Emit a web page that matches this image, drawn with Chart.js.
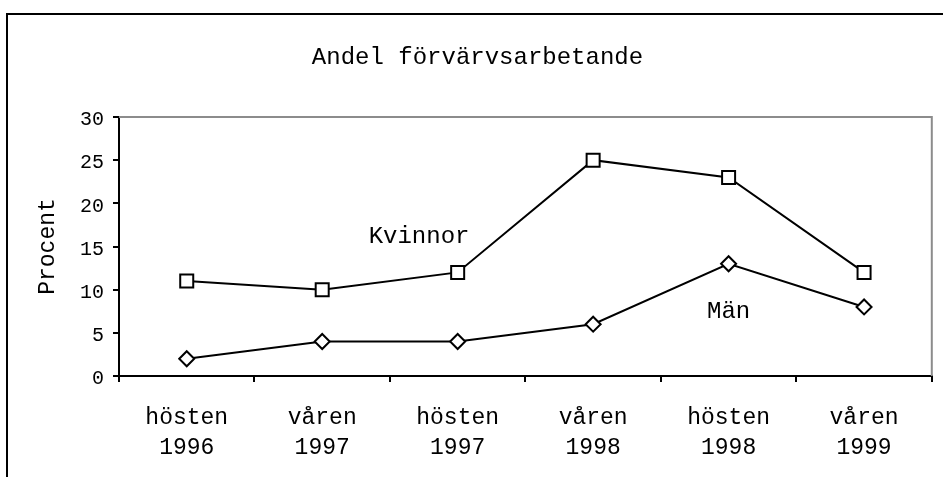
<!DOCTYPE html>
<html>
<head>
<meta charset="utf-8">
<script src="https://cdn.jsdelivr.net/npm/chart.js@4/dist/chart.umd.min.js"></script>
<style>
  html, body { margin: 0; padding: 0; background: #fff; }
  canvas { display: block; }
</style>
</head>
<body>
<canvas id="c" width="943" height="477"></canvas>
<script>
// ---- data ----
const categories = [
  ["hösten", "1996"],
  ["våren", "1997"],
  ["hösten", "1997"],
  ["våren", "1998"],
  ["hösten", "1998"],
  ["våren", "1999"]
];
const kvinnor = [11, 10, 12, 25, 23, 12];
const man = [2, 4, 4, 6, 13, 8];
const seriesNames = ["Kvinnor", "Män"];
const chartTitle = "Andel förvärvsarbetande";
const yAxisTitle = "Procent";
const yMin = 0, yMax = 30, yStep = 5;
// series label anchors in data units (category index, value)
const labelAnchorX = [1.715, 4.0];
const labelAnchorY = [16.1, 7.4];

const MONO = "'Liberation Mono', 'Courier New', monospace";

const framePlugin = {
  id: 'frame',
  beforeDraw(chart) {
    const ctx = chart.ctx;
    ctx.save();
    ctx.fillStyle = '#fff';
    ctx.fillRect(0, 0, chart.width, chart.height);
    ctx.strokeStyle = '#000';
    ctx.lineWidth = 2;
    ctx.strokeRect(7, 14, 1200, 1200);
    // chart title
    ctx.font = "24px " + MONO;
    ctx.fillStyle = '#000';
    ctx.textAlign = 'center';
    ctx.textBaseline = 'alphabetic';
    ctx.fillText(chartTitle, 477.5, 63.5);
    ctx.restore();
  },
  beforeDatasetsDraw(chart) {
    const a = chart.chartArea, ctx = chart.ctx;
    ctx.save();
    ctx.strokeStyle = '#8c8c8c';
    ctx.lineWidth = 2;
    ctx.beginPath();
    ctx.moveTo(a.left, a.top);
    ctx.lineTo(a.right, a.top);
    ctx.lineTo(a.right, a.bottom);
    ctx.stroke();
    ctx.restore();
  },
  afterDatasetsDraw(chart) {
    const ctx = chart.ctx, xs = chart.scales.x, ys = chart.scales.y;
    ctx.save();
    ctx.font = "24px " + MONO;
    ctx.fillStyle = '#000';
    ctx.textAlign = 'center';
    ctx.textBaseline = 'middle';
    seriesNames.forEach((n, i) => {
      ctx.fillText(n, xs.getPixelForValue(labelAnchorX[i]), ys.getPixelForValue(labelAnchorY[i]));
    });
    ctx.restore();
  }
};

new Chart(document.getElementById('c'), {
  type: 'line',
  data: {
    labels: categories,
    datasets: [
      {
        label: seriesNames[0],
        data: kvinnor,
        borderColor: '#000',
        borderWidth: 2,
        pointStyle: 'rect',
        pointRadius: 9.2,
        pointBackgroundColor: '#fff',
        pointBorderColor: '#000',
        pointBorderWidth: 2,
        tension: 0
      },
      {
        label: seriesNames[1],
        data: man,
        borderColor: '#000',
        borderWidth: 2,
        pointStyle: 'rectRot',
        pointRadius: 7.5,
        pointBackgroundColor: '#fff',
        pointBorderColor: '#000',
        pointBorderWidth: 2,
        tension: 0
      }
    ]
  },
  options: {
    responsive: false,
    animation: false,
    devicePixelRatio: 1,
    layout: { padding: { left: 0, right: 6, top: 117, bottom: 0 } },
    plugins: {
      legend: { display: false },
      tooltip: { enabled: false },
      title: { display: false }
    },
    scales: {
      x: {
        type: 'category',
        offset: true,
        afterFit(s) { s.height = 101; },
        grid: {
          offset: true,
          drawOnChartArea: false,
          drawTicks: true,
          tickLength: 6,
          color: '#000',
          lineWidth: 2
        },
        border: { display: true, color: '#000', width: 2 },
        ticks: {
          color: '#000',
          font: { family: MONO, size: 23, lineHeight: '30px' },
          padding: 21,
          maxRotation: 0,
          autoSkip: false
        }
      },
      y: {
        min: yMin,
        max: yMax,
        afterFit(s) { s.width = 119; },
        grid: {
          drawOnChartArea: false,
          drawTicks: true,
          tickLength: 6,
          color: '#000',
          lineWidth: 2
        },
        border: { display: true, color: '#000', width: 2 },
        ticks: {
          stepSize: yStep,
          color: '#000',
          font: { family: MONO, size: 20 },
          padding: 9,
          labelOffset: 3
        },
        title: {
          display: true,
          text: yAxisTitle,
          color: '#000',
          font: { family: MONO, size: 23 },
          padding: { top: 34, bottom: 0 }
        }
      }
    }
  },
  plugins: [framePlugin]
});
</script>
</body>
</html>
